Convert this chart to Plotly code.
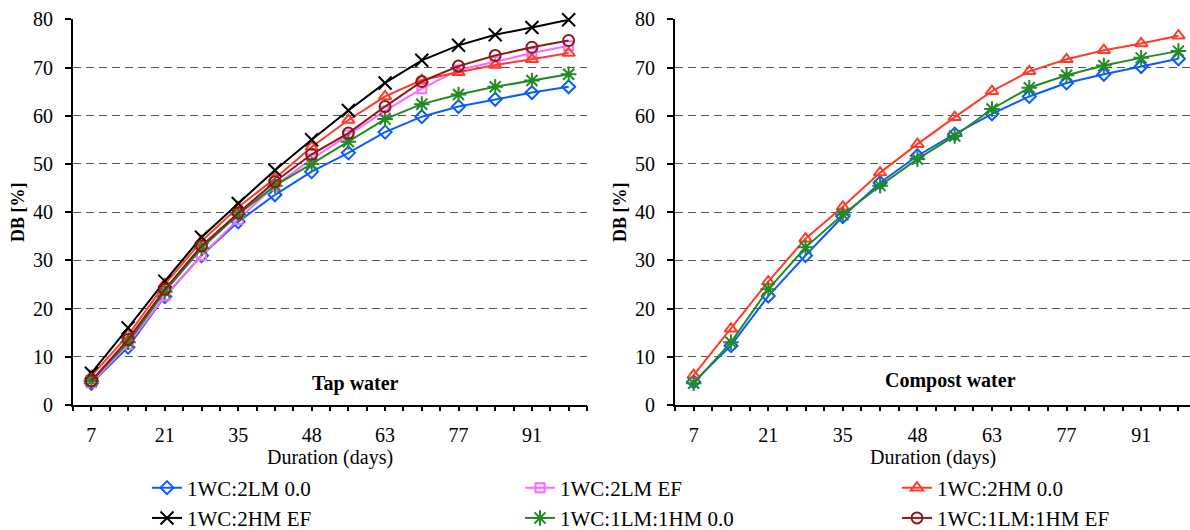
import plotly.graph_objects as go

days = ["7", "14", "21", "28", "35", "42", "48", "56", "63", "70", "77", "84", "91", "98"]
tick_days = ["7", "21", "35", "48", "63", "77", "91"]

# Tap water
tap_2lm_00 = [4.5, 12.0, 22.5, 31.0, 38.0, 43.6, 48.4, 52.3, 56.6, 59.8, 61.9, 63.4, 64.8, 66.0]
tap_2lm_ef = [4.6, 12.6, 22.6, 31.0, 38.5, 45.5, 51.0, 56.0, 61.0, 65.6, 69.5, 71.2, 73.0, 74.5]
tap_2hm_00 = [6.0, 14.5, 25.0, 34.0, 41.0, 47.0, 53.5, 59.1, 64.0, 67.4, 69.0, 70.5, 71.7, 73.0]
tap_2hm_ef = [6.6, 16.0, 25.7, 34.8, 41.8, 48.7, 55.0, 61.1, 66.8, 71.5, 74.6, 76.8, 78.3, 79.9]
tap_1lm1hm_00 = [5.0, 13.0, 23.5, 32.5, 39.5, 45.5, 50.0, 54.6, 59.3, 62.4, 64.4, 66.0, 67.3, 68.6]
tap_1lm1hm_ef = [5.0, 13.6, 24.0, 33.0, 39.8, 46.3, 52.0, 56.4, 61.9, 67.1, 70.3, 72.5, 74.2, 75.6]

# Compost water
comp_2lm_00 = [4.8, 12.3, 22.6, 31.0, 39.1, 46.1, 51.7, 56.2, 60.4, 64.0, 66.8, 68.6, 70.2, 71.8]
comp_2hm_00 = [6.2, 15.8, 25.6, 34.5, 41.1, 48.2, 54.1, 59.7, 65.1, 69.2, 71.7, 73.6, 75.0, 76.6]
comp_1lm1hm_00 = [4.5, 13.0, 24.0, 32.7, 39.5, 45.5, 51.0, 55.8, 61.4, 65.8, 68.4, 70.4, 72.0, 73.4]

names = ["1WC:2LM 0.0", "1WC:2LM EF", "1WC:2HM 0.0", "1WC:2HM EF", "1WC:1LM:1HM 0.0", "1WC:1LM:1HM EF"]
colors = ["#0a5cff", "#ff66ff", "#ff3b2a", "#000000", "#228b22", "#8b1a1a"]
symbols = ["diamond-open", "square-open", "triangle-up-open", "x-thin-open", "asterisk-open", "circle-open"]
sizes = [10, 9, 11, 13, 13, 11]
legend_of = ["legend", "legend2", "legend3", "legend", "legend2", "legend3"]

FONT = "Liberation Serif"

fig = go.Figure()

tap_series = [tap_2lm_00, tap_2lm_ef, tap_2hm_00, tap_2hm_ef, tap_1lm1hm_00, tap_1lm1hm_ef]
for i, ys in enumerate(tap_series):
    fig.add_trace(go.Scatter(
        x=days, y=ys, mode="lines+markers", name=names[i], legendgroup=names[i],
        legend=legend_of[i],
        line=dict(color=colors[i], width=2),
        marker=dict(symbol=symbols[i], size=sizes[i], color=colors[i],
                    line=dict(color=colors[i], width=2)),
        xaxis="x", yaxis="y", cliponaxis=False,
    ))

comp_series = {0: comp_2lm_00, 2: comp_2hm_00, 4: comp_1lm1hm_00}
for i, ys in comp_series.items():
    fig.add_trace(go.Scatter(
        x=days, y=ys, mode="lines+markers", name=names[i], legendgroup=names[i],
        showlegend=False,
        line=dict(color=colors[i], width=2),
        marker=dict(symbol=symbols[i], size=sizes[i], color=colors[i],
                    line=dict(color=colors[i], width=2)),
        xaxis="x2", yaxis="y2", cliponaxis=False,
    ))

# empty traces to activate the tick overlay axes
fig.add_trace(go.Scatter(x=[], y=[], xaxis="x3", yaxis="y", showlegend=False))
fig.add_trace(go.Scatter(x=[], y=[], xaxis="x4", yaxis="y2", showlegend=False))

ydom = [125 / 530, 510.7 / 530]
xdom1 = [73 / 1190, 587 / 1190]
xdom2 = [675 / 1190, 1.0]
xr1 = [-0.5, 13.5]
xr2 = [-0.5, 13.31]

def xcat(dom, rng, anchor):
    return dict(
        type="category", categoryorder="array", categoryarray=days,
        domain=dom, range=rng, anchor=anchor,
        tickmode="array", tickvals=tick_days, ticktext=tick_days,
        ticks="", ticklabelstandoff=11,
        showline=True, linecolor="black", linewidth=2,
        showgrid=False, zeroline=False,
        tickfont=dict(family=FONT, size=20, color="black"),
    )

def xticks(dom, rng, anchor, over):
    return dict(
        domain=dom, range=rng, anchor=anchor, overlaying=over,
        tickmode="linear", tick0=-0.5, dtick=0.5,
        ticks="outside", ticklen=5, tickwidth=2, tickcolor="black",
        showticklabels=False, showline=False, showgrid=False, zeroline=False,
    )

def yax(anchor):
    return dict(
        domain=ydom, range=[0, 80], anchor=anchor,
        tickmode="array", tickvals=list(range(0, 81, 10)),
        ticks="outside", ticklen=6, tickwidth=2, tickcolor="black",
        ticklabelstandoff=8,
        showline=True, linecolor="black", linewidth=2,
        showgrid=True, gridcolor="#555555", gridwidth=1, griddash="8px,5px",
        zeroline=False,
        tickfont=dict(family=FONT, size=20, color="black"),
        title=dict(text="<b>DB [%]</b>", font=dict(family=FONT, size=18, color="black"), standoff=4),
    )

def leg(xpos):
    return dict(
        orientation="v", x=xpos, xanchor="left", y=-0.016, yanchor="bottom",
        font=dict(family=FONT, size=21, color="black"),
        bgcolor="rgba(0,0,0,0)", tracegroupgap=0,
    )

def ann(text, xref, yref, x, y, bold=False):
    return dict(text=f"<b>{text}</b>" if bold else text, xref=xref, yref=yref, x=x, y=y,
                xanchor="center", yanchor="middle", showarrow=False,
                font=dict(family=FONT, size=20, color="black"))

fig.update_layout(
    width=1190, height=530,
    margin=dict(l=0, r=0, t=0, b=0, autoexpand=False),
    plot_bgcolor="white", paper_bgcolor="white",
    font=dict(family=FONT, size=20, color="black"),
    xaxis=xcat(xdom1, xr1, "y"),
    xaxis2=xcat(xdom2, xr2, "y2"),
    xaxis3=xticks(xdom1, xr1, "y", "x"),
    xaxis4=xticks(xdom2, xr2, "y2", "x2"),
    yaxis=yax("x"),
    yaxis2=yax("x2"),
    legend=leg(147 / 1190),
    legend2=leg(520 / 1190),
    legend3=leg(897 / 1190),
    annotations=[
        ann("Tap water", "x domain", "y domain", 0.55, 0.057, bold=True),
        ann("Compost water", "x2 domain", "y2 domain", 0.534, 0.064, bold=True),
        ann("Duration (days)", "x domain", "y domain", 0.5, -0.136),
        ann("Duration (days)", "x2 domain", "y2 domain", 0.5, -0.136),
    ],
)

fig.write_html("out.html")
